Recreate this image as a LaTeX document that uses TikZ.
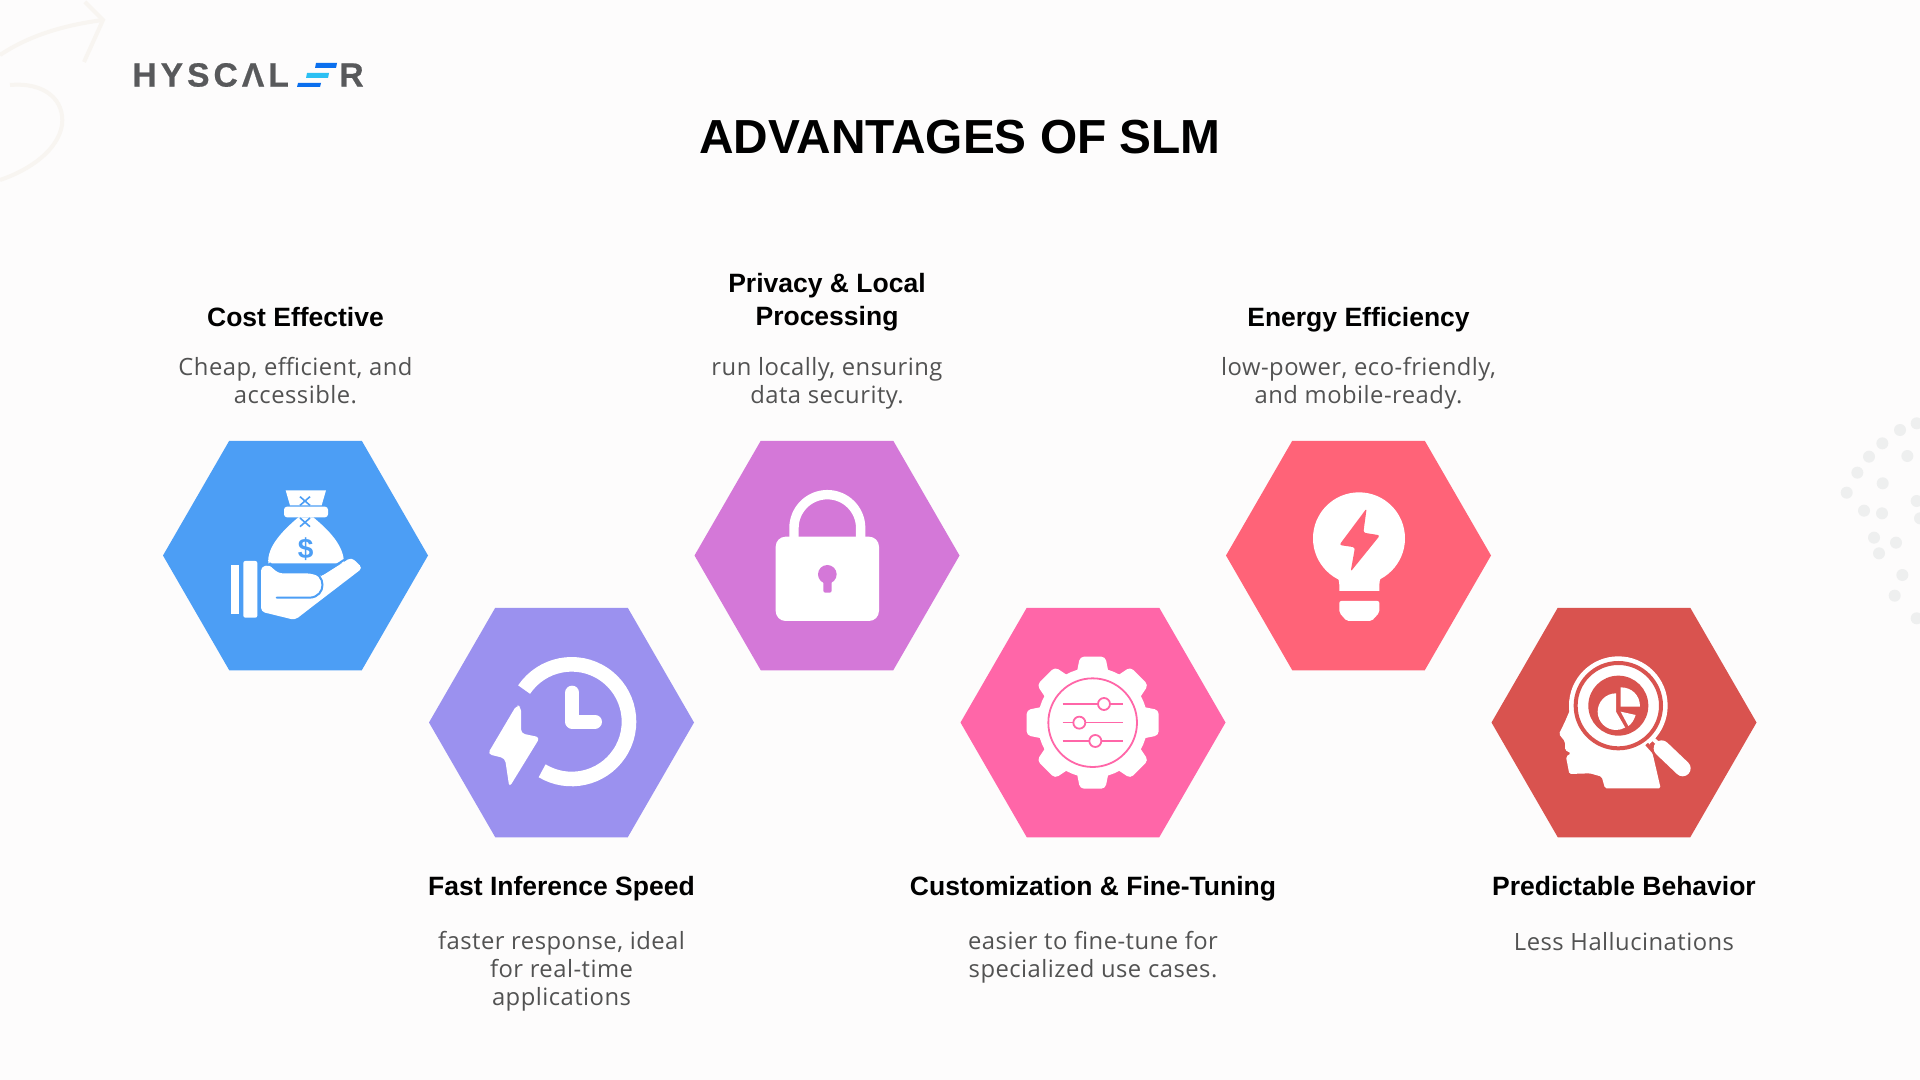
\documentclass[tikz,border=0pt]{standalone}
\usepackage{fontspec}
\setmainfont[LetterSpace=2]{Open Sans}
\newfontfamily\headfont{Liberation Sans Bold}
\newfontfamily\logofont[LetterSpace=12,FakeBold=.6]{Liberation Sans Bold}
\usetikzlibrary{shapes.geometric}
\definecolor{paper}{HTML}{FDFCFC}
\definecolor{faintline}{HTML}{F8F5F1}
\definecolor{faintdot}{HTML}{EEEFEF}
\definecolor{logogray}{HTML}{58595B}
\definecolor{logoblue}{HTML}{0B6FEE}
\definecolor{logocyan}{HTML}{2CC0F3}
\definecolor{bodygray}{HTML}{525252}
\definecolor{costblue}{HTML}{4C9EF5}
\definecolor{fastpurple}{HTML}{9B91EF}
\definecolor{lockorchid}{HTML}{D478D8}
\definecolor{tunepink}{HTML}{FF66A8}
\definecolor{energycoral}{HTML}{FF6378}
\definecolor{behavered}{HTML}{D9534F}
\tikzset{
	hexa/.style={regular polygon, regular polygon sides=6, minimum size=132.5pt, inner sep=0pt, outer sep=0pt, fill=#1},
	titletext/.style={font=\headfont\fontsize{23.9}{28}\selectfont, text=black},
	headtext/.style={font=\headfont\fontsize{13.25}{16.5}\selectfont, text=black, align=center, execute at begin node=\strut, execute at end node=\strut},
	bodytext/.style={font=\fontsize{11.9}{14}\selectfont, text=bodygray, align=center, execute at begin node=\strut, execute at end node=\strut},
	logotext/.style={anchor=west, font=\logofont\fontsize{16.8}{18}\selectfont, text=logogray, inner sep=0pt},
	icon/.style={scale=1/3, shift={#1}},
	dot/.style={circle, fill=faintdot, inner sep=0pt, minimum size=6pt}
}
\begin{document}
\begin{tikzpicture}[x=.5pt,y=-.5pt]
\useasboundingbox (0,0) rectangle (1920,1080);
\fill[paper] (0,0) rectangle (1920,1080);

\draw[faintline, line width=2pt] (0,55) .. controls (30,35) and (65,25) .. (103,20);
\draw[faintline, line width=2pt] (85,2) -- (103,20) -- (84,62);
\draw[faintline, line width=2pt] (10,85) .. controls (45,82) and (65,100) .. (62,125) .. controls (58,150) and (30,170) .. (0,180);

\foreach \dotx/\doty in {350/70,300/90,247/130,207/170,172/218,140/278,322/168,248/250,350/303,192/332,246/340,222/413,288/428,237/460,307/525,284/587,350/655,360/355}
	\node[dot] at ({1800+\dotx/3},{400+\doty/3}) {};

\node[logotext] (logoleft) at (132,75) {HYSCΛL};
\node[logotext] (logoright) at (339,75) {R};
\fill[logoblue] (316,63) -- (337,63) -- (336,68) -- (315,68) -- cycle;
\fill[logocyan] (307,73) -- (329,73) -- (328,78) -- (306,78) -- cycle;
\fill[logoblue] (298,83) -- (321,83) -- (320,87) -- (297,87) -- cycle;

\node[titletext] (title) at (960,137) {ADVANTAGES OF SLM};

\node[hexa=costblue] (costhex) at (295.5,555.5) {};
\node[hexa=fastpurple] (fasthex) at (561.5,722.5) {};
\node[hexa=lockorchid] (lockhex) at (827,555.5) {};
\node[hexa=tunepink] (tunehex) at (1093,722.5) {};
\node[hexa=energycoral] (energyhex) at (1358.5,555.5) {};
\node[hexa=behavered] (behavehex) at (1624,722.5) {};

\node[headtext] (costhead) at (295.5,319.5) {Cost Effective};
\node[bodytext] (costbody) at (295.5,385) {Cheap, efficient, and\\accessible.};
\node[headtext] (lockhead) at (827,304.5) {Privacy \& Local\\Processing};
\node[bodytext] (lockbody) at (827,385) {run locally, ensuring\\data security.};
\node[headtext] (energyhead) at (1358.5,319.5) {Energy Efficiency};
\node[bodytext] (energybody) at (1358.5,385) {low-power, eco-friendly,\\and mobile-ready.};
\node[headtext] (fasthead) at (561.5,888.5) {Fast Inference Speed};
\node[bodytext] (fastbody) at (561.5,973) {faster response, ideal\\for real-time\\applications};
\node[headtext] (tunehead) at (1093,888.5) {Customization \& Fine-Tuning};
\node[bodytext] (tunebody) at (1093,959) {easier to fine-tune for\\specialized use cases.};
\node[headtext] (behavehead) at (1624,888.5) {Predictable Behavior};
\node[bodytext] (behavebody) at (1624,945) {Less Hallucinations};

\begin{scope}[icon={(450,1290)}]
	\fill[white] (243,405) rectangle (268,551);
	\fill[white, rounded corners=1pt] (280,393) rectangle (322,563);
	\fill[white] (407,181) -- (528,181) -- (515,226) -- (420,226) -- cycle;
	\fill[white, rounded corners=1.5pt] (402,230) rectangle (534,262);
	\fill[white] (445,262) .. controls (400,300) and (350,350) .. (355,400) -- (582,400) .. controls (582,345) and (535,300) .. (490,262) -- cycle;
	\fill[white, rounded corners=2pt] (333,410) -- (360,405) -- (385,430) -- (480,430) -- (512,440) -- (604,382) -- (638,414) -- (480,535) -- (435,570) -- (333,545) -- cycle;
	\draw[costblue, line width=1pt, line cap=round] (360,400) .. controls (375,420) and (385,425) .. (400,425) -- (480,425) .. controls (530,430) and (530,500) .. (480,503) -- (380,503);
	\draw[costblue, line width=1pt] (512,435) -- (585,388);
	\draw[costblue, line width=.8pt] (450,200) -- (480,226) (480,200) -- (450,226) (450,290) -- (480,264) (480,290) -- (450,264);
	\node[font=\headfont\fontsize{14}{14}\selectfont, text=costblue, inner sep=0pt] (costsign) at (467,357) {\$};
\end{scope}

\begin{scope}[icon={(1260,1800)}]
	\draw[white, line width=7.3pt] (455,365) ++(214:172) arc[start angle=214, end angle=481, radius=172];
	\draw[white, line width=7pt, line cap=round, line join=round] (457,278) -- (457,365) -- (525,365);
	\fill[white, rounded corners=2pt] (290,315) -- (203,462) -- (255,475) -- (268,562) -- (360,412) -- (303,400) -- (303,320) -- cycle;
\end{scope}

\begin{scope}[icon={(2070,1290)}]
	\fill[white, rounded corners=5pt] (257,320) rectangle (567,573);
	\draw[white, line width=4.7pt] (312,325) -- (312,294) arc[start angle=180, end angle=360, radius=100] -- (512,325);
	\fill[lockorchid] (412,433) circle[radius=28];
	\fill[lockorchid, rounded corners=1pt] (400,440) rectangle (425,488);
\end{scope}

\begin{scope}[icon={(2880,1800)}]
	\fill[white] (398,368) circle[radius=165];
	\foreach \toothangle in {0,45,...,315}
		\fill[white, rounded corners=2pt, rotate around={\toothangle:(398,368)}] (360,170) -- (436,170) -- (448,230) -- (348,230) -- cycle;
	\draw[tunepink, line width=.9pt] (398,368) circle[radius=133];
	\draw[tunepink, line width=.8pt] (308,312) -- (488,312) (308,368) -- (488,368) (308,423) -- (488,423);
	\filldraw[fill=white, draw=tunepink, line width=.9pt] (432,312) circle[radius=18] (358,368) circle[radius=18] (406,423) circle[radius=18];
\end{scope}

\begin{scope}[icon={(3660,1290)}]
	\fill[white] (417,325) circle[radius=138];
	\fill[white] (335,420) .. controls (350,435) and (358,445) .. (358,465) -- (358,483) -- (478,483) -- (478,465) .. controls (478,445) and (486,435) .. (500,420) -- cycle;
	\fill[white, rounded corners=1pt] (358,513) -- (478,513) -- (478,548) -- (455,573) -- (380,573) -- (358,548) -- cycle;
	\fill[energycoral, rounded corners=1.2pt] (440,235) -- (358,345) -- (405,352) -- (392,425) -- (480,316) -- (430,308) -- cycle;
\end{scope}

\begin{scope}[icon={(4470,1800)}]
	\fill[white, rounded corners=.8pt] (240,330) -- (225,365) -- (207,402) -- (225,425) -- (225,450) -- (243,460) -- (228,470) -- (238,522) -- (300,520) -- (335,530) -- (345,565) -- (512,565) -- (490,470) -- (440,300) -- cycle;
	\fill[white] (385,317) circle[radius=148];
	\draw[behavered, line width=1.8pt] (470,432) -- (553,525);
	\draw[white, line width=2pt] (470,400) -- (520,445);
	\draw[white, line width=8pt, line cap=round] (515,445) -- (578,505);
	\draw[behavered, line width=2pt] (385,317) circle[radius=128];
	\fill[behavered] (385,317) circle[radius=90];
	\fill[white] (378,335) -- (378,280) arc[start angle=270, end angle=60, radius=55] -- cycle;
	\fill[white] (392,262) -- (392,320) -- (450,320) .. controls (450,285) and (425,262) .. (392,262) -- cycle;
	\fill[white] (392,335) -- (437,345) .. controls (432,360) and (425,372) .. (415,378) -- cycle;
\end{scope}
\end{tikzpicture}
\end{document}
